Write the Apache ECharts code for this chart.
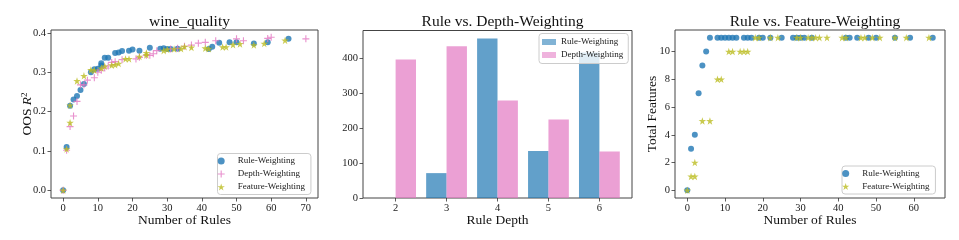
<!DOCTYPE html>
<html><head><meta charset="utf-8">
<script src="https://cdn.jsdelivr.net/npm/echarts@6/dist/echarts.min.js"></script>
<style>html,body{margin:0;padding:0;background:#fff}#c{width:959px;height:240px}</style>
</head><body><div id="c"></div>
<script>
// ---- Panel 1: wine_quality (OOS R^2 vs number of rules)
const ruleX1 = [0,1,2,3,4,5,6,8,9,10,11,11,12,13,15,16,17,19,20,22,25,28,29,30,31,33,42,43,45,48,50,55,59,65];
const ruleY1 = [0.000,0.110,0.215,0.231,0.240,0.255,0.270,0.300,0.308,0.309,0.323,0.317,0.337,0.337,0.349,0.350,0.354,0.355,0.358,0.355,0.362,0.360,0.361,0.359,0.359,0.360,0.359,0.365,0.375,0.376,0.376,0.373,0.376,0.385];
const depthX1 = [0,1,2,3,4,5,6,7,9,10,11,12,13,14,15,17,21,22,24,25,26,27,31,33,35,37,39,41,44,50,52,59,60,70];
const depthY1 = [0.000,0.102,0.162,0.189,0.226,0.268,0.268,0.280,0.286,0.300,0.305,0.311,0.316,0.325,0.327,0.332,0.334,0.338,0.343,0.343,0.347,0.355,0.359,0.361,0.366,0.369,0.374,0.376,0.380,0.385,0.380,0.386,0.389,0.385];
const featX1 = [0,1,2,2,4,6,8,9,11,12,14,15,16,18,19,22,24,24,29,30,32,34,35,37,41,42,46,47,49,51,55,58,64];
const featY1 = [0.000,0.105,0.216,0.172,0.278,0.291,0.306,0.305,0.310,0.315,0.318,0.319,0.322,0.334,0.334,0.340,0.349,0.344,0.355,0.358,0.359,0.360,0.365,0.363,0.361,0.360,0.364,0.364,0.370,0.372,0.369,0.373,0.381];
const xTicks1 = [0,10,20,30,40,50,60,70];
const yTicks1 = [0,0.1,0.2,0.3,0.4];

// ---- Panel 2: Rule vs. Depth-Weighting (counts per rule depth)
const depths = [2,3,4,5,6];
const ruleCounts = [0,71,455,134,415];
const depthCounts = [395,433,278,224,133];
const yTicks2 = [0,100,200,300,400];

// ---- Panel 3: Rule vs. Feature-Weighting (total features vs number of rules)
const ruleX3 = [0,1,2,3,4,5,6,8,9,10,11,12,13,15,16,17,19,20,22,25,28,29,30,31,33,42,43,45,48,50,55,59,65];
const ruleF3 = [0,3,4,7,9,10,11,11,11,11,11,11,11,11,11,11,11,11,11,11,11,11,11,11,11,11,11,11,11,11,11,11,11];
const featX3 = [0,1,2,2,4,6,8,9,11,12,14,15,16,18,19,22,24,29,30,32,33,34,35,37,41,42,46,47,49,51,55,58,64];
const featF3 = [0,1,1,2,5,5,8,8,10,10,10,10,10,11,11,11,11,11,11,11,11,11,11,11,11,11,11,11,11,11,11,11,11];
const xTicks3 = [0,10,20,30,40,50,60];
const yTicks3 = [0,2,4,6,8,10];

const names = ['Rule-Weighting','Depth-Weighting','Feature-Weighting'];
const BLUE='#1f77b4', PINK='#e377c2', OLIVE='#bcbd22';
const STAR='path://M50,0 L61.2,34.5 L97.6,34.5 L68.2,55.9 L79.4,90.5 L50,69.1 L20.6,90.5 L31.8,55.9 L2.4,34.5 L38.8,34.5 Z';
const PLUS='path://M42,0 H58 V42 H100 V58 H58 V100 H42 V58 H0 V42 H42 Z';
const FONT='Liberation Serif';
const zip=(a,b)=>a.map((v,i)=>[v,b[i]]);

function xAxis(gi,min,max,ticks,name,fmt){
  return {type:'value',gridIndex:gi,min:min,max:max,
    name:name,nameLocation:'middle',nameGap:15,nameMoveOverlap:false,
    nameTextStyle:{fontFamily:FONT,fontSize:13.5,color:'#111',verticalAlign:'top'},
    axisLine:{show:false,onZero:false},
    axisTick:{show:true,length:3.5,lineStyle:{color:'#333',width:0.8},customValues:ticks},
    axisLabel:{fontFamily:FONT,fontSize:10.5,color:'#222',margin:5,customValues:ticks,formatter:fmt||(v=>String(v))},
    splitLine:{show:false}};
}
function yAxis(gi,min,max,ticks,name,gap,fmt,rich){
  return {type:'value',gridIndex:gi,min:min,max:max,
    name:name,nameLocation:'middle',nameGap:gap,nameRotate:90,nameMoveOverlap:false,
    nameTextStyle:{fontFamily:FONT,fontSize:13.5,color:'#111',rich:rich},
    axisLine:{show:false,onZero:false},
    axisTick:{show:true,length:3.5,lineStyle:{color:'#333',width:0.8},customValues:ticks},
    axisLabel:{fontFamily:FONT,fontSize:10.5,color:'#222',margin:5,customValues:ticks,formatter:fmt||(v=>String(v))},
    splitLine:{show:false}};
}
const legendBase={orient:'vertical',backgroundColor:'rgba(255,255,255,0.8)',borderColor:'#cccccc',borderWidth:1,borderRadius:3,
  textStyle:{fontFamily:FONT,fontSize:9,color:'#222'},itemGap:4};

const chart=echarts.init(document.getElementById('c'),null,{renderer:'canvas'});
chart.setOption({
  animation:false,
  title:[
    {text:'wine_quality',left:184.5,top:9,textAlign:'center',textStyle:{fontFamily:FONT,fontSize:15.5,fontWeight:'normal',color:'#111'}},
    {text:'Rule vs. Depth-Weighting',left:497.5,top:9,textAlign:'center',textStyle:{fontFamily:FONT,fontSize:15.5,fontWeight:'normal',color:'#111'}},
    {text:'Rule vs. Feature-Weighting',left:810,top:9,textAlign:'center',textStyle:{fontFamily:FONT,fontSize:15.5,fontWeight:'normal',color:'#111'}}
  ],
  grid:[
    {left:51,top:30,width:267,height:168,show:true,borderColor:'#444',borderWidth:1,backgroundColor:'transparent'},
    {left:363,top:30.5,width:269,height:167.5,show:true,borderColor:'#444',borderWidth:1,backgroundColor:'transparent'},
    {left:675,top:30,width:270,height:168,show:true,borderColor:'#444',borderWidth:1,backgroundColor:'transparent'}
  ],
  xAxis:[
    xAxis(0,-3.5,73.5,xTicks1,'Number of Rules'),
    xAxis(1,1.36,6.64,depths,'Rule Depth'),
    xAxis(2,-3.25,68.25,xTicks3,'Number of Rules')
  ],
  yAxis:[
    yAxis(0,-0.0194,0.4074,yTicks1,'OOS {i|R}{s|2}',16,v=>v.toFixed(1),
      {i:{fontFamily:FONT,fontSize:13.5,fontStyle:'italic',color:'#111'},s:{fontFamily:FONT,fontSize:9,color:'#111',verticalAlign:'top',padding:[0,0,6,0]}}),
    yAxis(1,0,478,yTicks2,'',25),
    yAxis(2,-0.55,11.55,yTicks3,'Total Features',16)
  ],
  legend:[
    Object.assign({},legendBase,{left:217.5,top:153.5,padding:[3,6,3,0],itemWidth:23,itemHeight:7,
      data:[{name:names[0],icon:'circle',itemStyle:{color:BLUE}},
            {name:names[1],icon:PLUS,itemStyle:{color:PINK}},
            {name:names[2],icon:STAR,itemStyle:{color:OLIVE}}]}),
    Object.assign({},legendBase,{left:539,top:33.5,padding:[4,5,4,3],itemWidth:14,itemHeight:6,
      data:[{name:names[0],icon:'rect',itemStyle:{color:'rgba(31,119,180,0.7)'}},
            {name:names[1],icon:'rect',itemStyle:{color:'rgba(227,119,194,0.7)'}}]}),
    Object.assign({},legendBase,{left:842,top:166,padding:[3,6,3,0],itemWidth:23,itemHeight:7,
      data:[{name:names[0],icon:'circle',itemStyle:{color:BLUE}},
            {name:names[2],icon:STAR,itemStyle:{color:OLIVE}}]})
  ],
  series:[
    {type:'scatter',name:names[0],xAxisIndex:0,yAxisIndex:0,data:zip(ruleX1,ruleY1),symbol:'circle',symbolSize:6,itemStyle:{color:BLUE},z:2},
    {type:'scatter',name:names[1],xAxisIndex:0,yAxisIndex:0,data:zip(depthX1,depthY1),symbol:PLUS,symbolSize:7,itemStyle:{color:PINK},z:3},
    {type:'scatter',name:names[2],xAxisIndex:0,yAxisIndex:0,data:zip(featX1,featY1),symbol:STAR,symbolSize:7.5,itemStyle:{color:OLIVE},z:4},
    {type:'bar',name:names[0],xAxisIndex:1,yAxisIndex:1,data:zip(depths,ruleCounts),barWidth:20.4,barGap:'0%',itemStyle:{color:'rgba(31,119,180,0.7)'}},
    {type:'bar',name:names[1],xAxisIndex:1,yAxisIndex:1,data:zip(depths,depthCounts),barWidth:20.4,barGap:'0%',itemStyle:{color:'rgba(227,119,194,0.7)'}},
    {type:'scatter',name:names[0],xAxisIndex:2,yAxisIndex:2,data:zip(ruleX3,ruleF3),symbol:'circle',symbolSize:6,itemStyle:{color:BLUE},z:2},
    {type:'scatter',name:names[2],xAxisIndex:2,yAxisIndex:2,data:zip(featX3,featF3),symbol:STAR,symbolSize:7.5,itemStyle:{color:OLIVE},z:4}
  ]
});
</script></body></html>
